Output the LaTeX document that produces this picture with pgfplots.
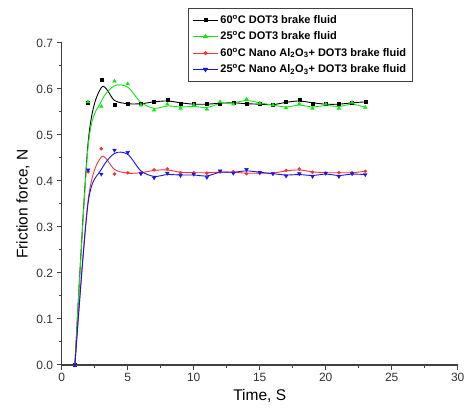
\documentclass[border=0pt]{standalone}
\usepackage{pgfplots}
\pgfplotsset{compat=1.18}
\usepackage{pgfplotstable}
\usepackage{fontspec}
\setmainfont{Liberation Sans}

\definecolor{axgray}{RGB}{64,64,64}
\definecolor{cgreen}{RGB}{20,230,20}
\definecolor{cred}{RGB}{250,50,50}
\definecolor{cblue}{RGB}{20,20,240}

% measured points
\pgfplotstableread{
x  blk   grn   red   blu
1  0     0     0     0
2  0.570 0.572 0.420 0.424
3  0.620 0.562 0.470 0.415
4  0.566 0.617 0.415 0.467
5  0.569 0.611 0.418 0.462
6  0.567 0.565 0.417 0.416
7  0.572 0.554 0.424 0.407
8  0.576 0.567 0.426 0.417
9  0.569 0.558 0.418 0.412
10 0.567 0.565 0.418 0.415
11 0.567 0.556 0.417 0.408
12 0.569 0.572 0.420 0.422
13 0.571 0.567 0.420 0.417
14 0.567 0.578 0.416 0.425
15 0.567 0.569 0.417 0.419
16 0.565 0.565 0.416 0.416
17 0.572 0.559 0.423 0.411
18 0.576 0.568 0.426 0.416
19 0.569 0.558 0.419 0.410
20 0.567 0.567 0.417 0.417
21 0.567 0.558 0.418 0.410
22 0.570 0.571 0.418 0.416
23 0.572 0.560 0.421 0.414
}\pts

% fitted curve
\pgfplotstableread{
x  blk   grn   red   blu
1  0     0     0     0
2  0.483 0.475 0.358 0.352
3  0.603 0.573 0.452 0.425
4  0.575 0.607 0.425 0.460
5  0.568 0.604 0.417 0.458
6  0.568 0.571 0.418 0.422
7  0.572 0.558 0.423 0.410
8  0.574 0.563 0.424 0.414
9  0.570 0.561 0.419 0.413
10 0.567 0.562 0.418 0.413
11 0.567 0.560 0.418 0.411
12 0.569 0.568 0.419 0.419
13 0.570 0.570 0.419 0.419
14 0.568 0.575 0.417 0.422
15 0.567 0.570 0.417 0.419
16 0.566 0.565 0.417 0.416
17 0.571 0.561 0.422 0.413
18 0.574 0.565 0.424 0.414
19 0.570 0.561 0.420 0.412
20 0.567 0.564 0.418 0.415
21 0.567 0.562 0.418 0.412
22 0.570 0.567 0.418 0.415
23 0.572 0.560 0.421 0.414
}\fit

\begin{document}
\begin{tikzpicture}
\begin{axis}[
  scale only axis, width=396pt, height=322pt,
  xmin=0, xmax=30, ymin=0, ymax=0.7,
  axis x line*=bottom, axis y line*=left,
  axis line style={axgray, line width=1.2pt},
  tick align=outside,
  major tick length=5pt, minor tick length=3pt,
  every tick/.style={axgray, line width=1pt},
  xtick={0,5,...,30}, ytick={0,0.1,...,0.7},
  minor x tick num=1, minor y tick num=1,
  yticklabel style={/pgf/number format/.cd, fixed, fixed zerofill, precision=1},
  /pgf/number format/assume math mode=true,
  tick label style={font=\fontsize{12}{14}\selectfont, text=black!80},
  xlabel={Time, S}, ylabel={Friction force, N},
  label style={font=\fontsize{15.5}{18}\selectfont},
  clip=false,
  legend cell align=left,
  legend image code/.code={\draw[mark repeat=2, mark phase=2, #1] plot coordinates {(0pt,0pt) (12.5pt,0pt) (25pt,0pt)};},
  legend style={at={(0.319,1.109)}, anchor=north west, draw=axgray, line width=1pt,
    font=\bfseries\fontsize{11}{13}\selectfont, row sep=2.8pt, inner xsep=4pt, inner ysep=5pt},
]
\addplot[black, line width=0.9pt, smooth, forget plot] table[x=x, y=blk] {\fit};
\addplot[cgreen, line width=0.9pt, smooth, forget plot] table[x=x, y=grn] {\fit};
\addplot[cred, line width=0.9pt, smooth, forget plot] table[x=x, y=red] {\fit};
\addplot[cblue, line width=0.9pt, smooth, forget plot] table[x=x, y=blu] {\fit};
\addplot[black, only marks, mark=square*, mark size=1.5pt, forget plot] table[x=x, y=blk] {\pts};
\addplot[cgreen, only marks, mark=triangle*, mark size=2.1pt, forget plot] table[x=x, y=grn] {\pts};
\addplot[cred, only marks, mark=*, mark size=1.6pt, forget plot] table[x=x, y=red] {\pts};
\addplot[cblue, only marks, mark=triangle*, mark options={rotate=180}, mark size=2.1pt, forget plot] table[x=x, y=blu] {\pts};
\addlegendimage{black, line width=0.9pt, mark=square*, mark size=1.5pt}
\addlegendentry{60\textsuperscript{o}C DOT3 brake fluid}
\addlegendimage{cgreen, line width=0.9pt, mark=triangle*, mark size=2.1pt}
\addlegendentry{25\textsuperscript{o}C DOT3 brake fluid}
\addlegendimage{cred, line width=0.9pt, mark=*, mark size=1.6pt}
\addlegendentry{60\textsuperscript{o}C Nano Al\textsubscript{2}O\textsubscript{3}+ DOT3 brake fluid}
\addlegendimage{cblue, line width=0.9pt, mark=triangle*, mark options={rotate=180}, mark size=2.1pt}
\addlegendentry{25\textsuperscript{o}C Nano Al\textsubscript{2}O\textsubscript{3}+ DOT3 brake fluid}
\end{axis}
\pgfresetboundingbox
\path (-61.7pt,-54pt) rectangle (404.3pt,365pt);
\end{tikzpicture}
\end{document}
